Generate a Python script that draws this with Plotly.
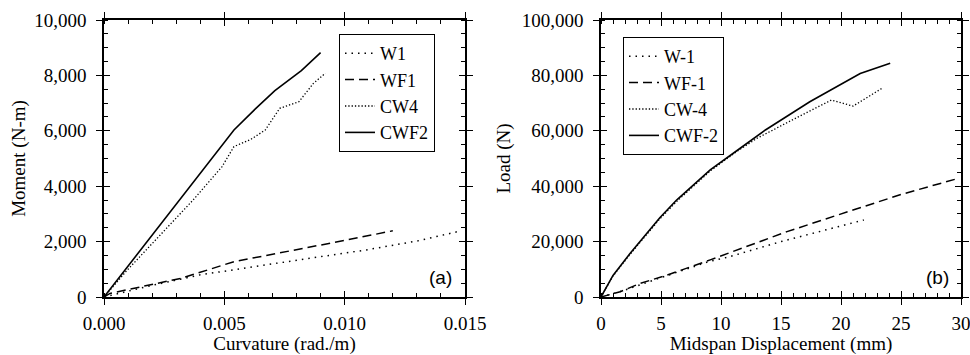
import plotly.graph_objects as go

# ---- Panel (a): Moment vs Curvature ----
w1_x = [0.0, 0.002, 0.004, 0.0059, 0.0081, 0.0109, 0.0130, 0.0147]
w1_y = [0, 420, 800, 1040, 1340, 1700, 2020, 2360]
wf1_x = [0.0, 0.00025, 0.0016, 0.0032, 0.0054, 0.0076, 0.0101, 0.0120]
wf1_y = [0, 130, 380, 675, 1275, 1635, 2060, 2390]
cw4_x = [0.0, 0.0009, 0.0037, 0.0049, 0.0054, 0.0061, 0.0067, 0.0073, 0.0081, 0.0087, 0.0092]
cw4_y = [0, 910, 3500, 4700, 5430, 5690, 6030, 6810, 7050, 7710, 8080]
cwf2_x = [0.0, 0.0054, 0.0063, 0.0071, 0.0082, 0.0090]
cwf2_y = [0, 6030, 6800, 7450, 8170, 8820]

# ---- Panel (b): Load vs Midspan Displacement ----
w1b_x = [0.0, 2.0, 5.0, 9.0, 10.5, 15.0, 21.9]
w1b_y = [0, 2500, 7000, 12800, 14300, 20000, 27800]
wf1b_x = [0.0, 1.6, 3.25, 5.5, 9.1, 12.0, 15.5, 21.0, 25.0, 29.5]
wf1b_y = [0, 1900, 4900, 7900, 13400, 18000, 23600, 31400, 37000, 42500]
cw4b_x = [0.0, 1.0, 2.4, 4.9, 6.3, 9.1, 11.3, 13.0, 16.2, 19.2, 21.0, 23.4]
cw4b_y = [0, 7600, 15300, 28200, 34500, 45500, 52500, 57300, 64500, 71100, 68900, 75300]
cwf2b_x = [0.0, 1.0, 2.4, 4.9, 6.3, 9.1, 11.6, 13.7, 17.4, 21.6, 24.1]
cwf2b_y = [0, 7800, 15600, 28600, 35000, 45900, 53700, 60300, 70500, 80700, 84400]

names_a = ["W1", "WF1", "CW4", "CWF2"]
names_b = ["W-1", "WF-1", "CW-4", "CWF-2"]

FONT = "Liberation Serif, Times New Roman, serif"
FS = 19
LFS = 18
styles = [
    dict(color="black", width=1.5, dash="1.5px,5px"),
    dict(color="black", width=1.5, dash="9px,5px"),
    dict(color="black", width=1.3, dash="1.3px,2px"),
    dict(color="black", width=1.6),
]

fig = go.Figure()
data_a = [(w1_x, w1_y), (wf1_x, wf1_y), (cw4_x, cw4_y), (cwf2_x, cwf2_y)]
data_b = [(w1b_x, w1b_y), (wf1b_x, wf1b_y), (cw4b_x, cw4b_y), (cwf2b_x, cwf2b_y)]
for (x, y), n, s in zip(data_a, names_a, styles):
    fig.add_trace(go.Scatter(x=x, y=y, name=n, mode="lines", line=s,
                             xaxis="x", yaxis="y", legend="legend"))
for (x, y), n, s in zip(data_b, names_b, styles):
    fig.add_trace(go.Scatter(x=x, y=y, name=n, mode="lines", line=s,
                             xaxis="x2", yaxis="y2", legend="legend2"))
# empty traces so the overlay tick axes are drawn
fig.add_trace(go.Scatter(x=[None], y=[None], xaxis="x3", yaxis="y3", showlegend=False, hoverinfo="skip"))
fig.add_trace(go.Scatter(x=[None], y=[None], xaxis="x4", yaxis="y4", showlegend=False, hoverinfo="skip"))

W, H = 970, 355
L, R, T, B = 104, 9, 20, 58
pw = W - L - R
ph = H - T - B
def px(v):
    return (v - L) / pw
def py(v):
    return (H - B - v) / ph

dom_a = [0, px(465)]
dom_b = [px(601), 1]

tickfont = dict(family=FONT, size=FS, color="black")
common = dict(showline=True, linecolor="black", linewidth=1.5, ticks="outside",
              ticklen=6, tickwidth=1.3, tickcolor="black", mirror="allticks",
              showgrid=False, zeroline=False, tickfont=tickfont, automargin=False,
              ticklabeloverflow="allow",
              title_font=dict(family=FONT, size=FS, color="black"))
minor = lambda d: dict(dtick=d, ticks="inside", ticklen=4, tickwidth=1, tickcolor="black", showgrid=False)

over = dict(showline=True, linecolor="black", linewidth=1.5, ticks="inside", ticklen=6,
            tickwidth=1.3, tickcolor="black", mirror="allticks", showgrid=False,
            zeroline=False, showticklabels=False, automargin=False)

fig.update_layout(
    template="none",
    width=W, height=H, margin=dict(l=L, r=R, t=T, b=B, autoexpand=False),
    paper_bgcolor="white", plot_bgcolor="white",
    font=dict(family=FONT, size=FS, color="black"),
    xaxis=dict(domain=dom_a, range=[0, 0.015], dtick=0.005, tick0=0, tickformat=".3f",
               minor=minor(0.001), title=dict(text="Curvature (rad./m)", standoff=6),
               anchor="y", ticklabelstandoff=2, **common),
    yaxis=dict(domain=[0, 1], range=[0, 10000], dtick=2000, tick0=0, tickformat=",d",
               minor=minor(500), title=dict(text="Moment (N-m)", standoff=4),
               anchor="x", ticklabelstandoff=6, **common),
    xaxis2=dict(domain=dom_b, range=[0, 30], dtick=5, tick0=0,
                minor=minor(1), title=dict(text="Midspan Displacement (mm)", standoff=6),
                anchor="y2", ticklabelstandoff=2, **common),
    yaxis2=dict(domain=[0, 1], range=[0, 100000], dtick=20000, tick0=0, tickformat=",d",
                minor=minor(5000), title=dict(text="Load (N)", standoff=6),
                anchor="x2", ticklabelstandoff=6, **common),
    xaxis3=dict(overlaying="x", anchor="y3", domain=dom_a, range=[0, 0.015], dtick=0.005, tick0=0, **over),
    yaxis3=dict(overlaying="y", anchor="x3", domain=[0, 1], range=[0, 10000], dtick=2000, tick0=0, **over),
    xaxis4=dict(overlaying="x2", anchor="y4", domain=dom_b, range=[0, 30], dtick=5, tick0=0, **over),
    yaxis4=dict(overlaying="y2", anchor="x4", domain=[0, 1], range=[0, 100000], dtick=20000, tick0=0, **over),
    legend=dict(x=px(339), y=py(34), xanchor="left", yanchor="top",
                bordercolor="black", borderwidth=1, bgcolor="white",
                font=dict(family=FONT, size=LFS, color="black"), tracegroupgap=0,
                itemwidth=30),
    legend2=dict(x=px(623), y=py(37), xanchor="left", yanchor="top",
                 bordercolor="black", borderwidth=1, bgcolor="white",
                 font=dict(family=FONT, size=LFS, color="black"), tracegroupgap=0,
                 itemwidth=30),
    showlegend=True,
    annotations=[
        dict(text="(a)", xref="paper", yref="paper", x=px(454), y=py(277),
             xanchor="right", yanchor="middle", showarrow=False,
             font=dict(family="Liberation Sans, Arial, sans-serif", size=19, color="black")),
        dict(text="(b)", xref="paper", yref="paper", x=px(951), y=py(277),
             xanchor="right", yanchor="middle", showarrow=False,
             font=dict(family="Liberation Sans, Arial, sans-serif", size=19, color="black")),
    ],
)

fig.write_html("out.html")
